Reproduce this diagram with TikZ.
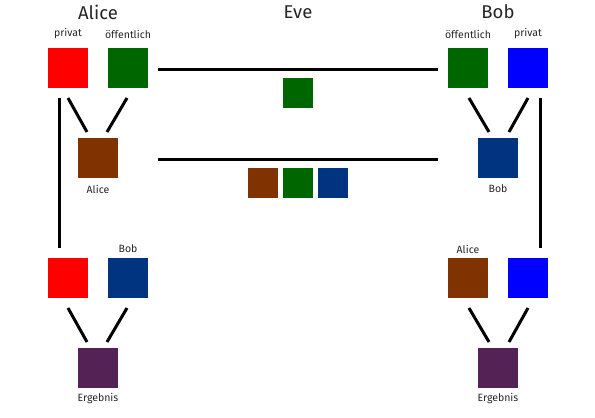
\documentclass[tikz,border=0pt]{standalone}
\usepackage{fontspec}
\setmainfont{Fira Sans}
\definecolor{cred}{HTML}{FF0000}
\definecolor{cgreen}{HTML}{006600}
\definecolor{cbrown}{HTML}{803300}
\definecolor{cdblue}{HTML}{003380}
\definecolor{cblue}{HTML}{0000FF}
\definecolor{cpurple}{HTML}{552255}
\tikzset{
  big/.style={minimum size=40pt, inner sep=0pt, outer sep=0pt, draw=none},
  small/.style={minimum size=30pt, inner sep=0pt, outer sep=0pt, draw=none},
  title/.style={font=\fontsize{18.5}{20}\selectfont, text=black!85},
  lbl/.style={font=\fontsize{10.5}{12}\selectfont, text=black!85},
  conn/.style={line width=3pt},
}
\begin{document}
\begin{tikzpicture}[x=1pt,y=-1pt]
\useasboundingbox (0,0) rectangle (595,418);
% titles
\node[title] (tA) at (98,12) {Alice};
\node[title] (tE) at (298,12) {Eve};
\node[title] (tB) at (498,12) {Bob};
% Alice side
\node[lbl] (lAp) at (68,34) {privat};
\node[lbl] (lAo) at (128,34) {öffentlich};
\node[big, fill=cred] (aR) at (68,68) {};
\node[big, fill=cgreen] (aG) at (128,68) {};
\node[big, fill=cbrown] (aM) at (98,158) {};
\node[lbl] (lAm) at (98,189) {Alice};
\node[lbl] (lAb) at (128,249) {Bob};
\node[big, fill=cred] (aR2) at (68,278) {};
\node[big, fill=cdblue] (aB2) at (128,278) {};
\node[big, fill=cpurple] (aE) at (98,368) {};
\node[lbl] (lAe) at (98,399) {Ergebnis};
% Bob side
\node[lbl] (lBo) at (468,34) {öffentlich};
\node[lbl] (lBp) at (528,34) {privat};
\node[big, fill=cgreen] (bG) at (468,68) {};
\node[big, fill=cblue] (bB) at (528,68) {};
\node[big, fill=cdblue] (bM) at (498,158) {};
\node[lbl] (lBm) at (498,189) {Bob};
\node[lbl] (lBa) at (468,249) {Alice};
\node[big, fill=cbrown] (bM2) at (468,278) {};
\node[big, fill=cblue] (bB2) at (528,278) {};
\node[big, fill=cpurple] (bE) at (498,368) {};
\node[lbl] (lBe) at (498,399) {Ergebnis};
% Eve
\node[small, fill=cgreen] (eG) at (298,93) {};
\node[small, fill=cbrown] (eM) at (263,183) {};
\node[small, fill=cgreen] (eG2) at (298,183) {};
\node[small, fill=cdblue] (eB) at (333,183) {};
% connector end points
\coordinate (a1s) at (68,98);  \coordinate (a1e) at (87,132);
\coordinate (a2s) at (127,98); \coordinate (a2e) at (107,132);
\coordinate (a3s) at (68,308); \coordinate (a3e) at (87,342);
\coordinate (a4s) at (127,308);\coordinate (a4e) at (107,342);
\coordinate (avs) at (59,98);  \coordinate (ave) at (59,248);
\coordinate (b1s) at (469,98); \coordinate (b1e) at (489,132);
\coordinate (b2s) at (528,98); \coordinate (b2e) at (509,132);
\coordinate (b3s) at (469,308);\coordinate (b3e) at (489,342);
\coordinate (b4s) at (528,308);\coordinate (b4e) at (509,342);
\coordinate (bvs) at (540,98); \coordinate (bve) at (540,248);
\coordinate (h1s) at (158,69); \coordinate (h1e) at (438,69);
\coordinate (h2s) at (158,159);\coordinate (h2e) at (438,159);
% connectors
\draw[conn] (a1s) -- (a1e);
\draw[conn] (a2s) -- (a2e);
\draw[conn] (a3s) -- (a3e);
\draw[conn] (a4s) -- (a4e);
\draw[conn] (avs) -- (ave);
\draw[conn] (b1s) -- (b1e);
\draw[conn] (b2s) -- (b2e);
\draw[conn] (b3s) -- (b3e);
\draw[conn] (b4s) -- (b4e);
\draw[conn] (bvs) -- (bve);
\draw[conn] (h1s) -- (h1e);
\draw[conn] (h2s) -- (h2e);
\end{tikzpicture}
\end{document}
